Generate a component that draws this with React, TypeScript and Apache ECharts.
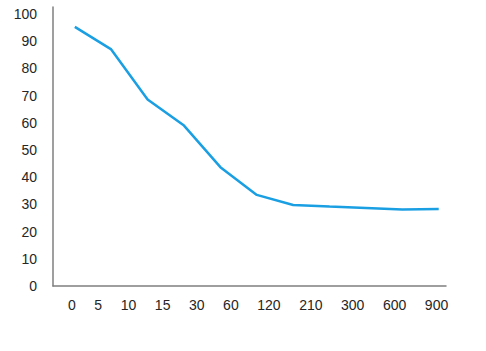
import React, { useEffect, useRef } from "react";
import * as echarts from "echarts";

const categories = ["0", "5", "10", "15", "30", "60", "120", "210", "300", "600", "900"];
const values = [95.3, 87, 68.6, 59, 43.7, 33.5, 29.8, 29.2, 28.7, 28.1, 28.3];
const yTicks = { min: 0, max: 100, interval: 10 };

const W = 486;
const H = 351;
const FONT_FAMILY = '"Liberation Sans", Arial, sans-serif';
const FONT_SIZE = 14;
const TEXT_COLOR = "#262626";
const AXIS_COLOR = "#7f7f7f";
const LINE_COLOR = "#1a9fe3";

export default function App() {
  const ref = useRef<HTMLDivElement>(null);
  useEffect(() => {
    if (!ref.current) return;
    const chart = echarts.init(ref.current, null, { renderer: "svg" });
    const gridLeft = 53;
    const gridRight = 40;
    const xMin = -0.6;
    const xMax = categories.length - 1 + 0.2;
    const pxPerUnit = (W - gridLeft - gridRight) / (xMax - xMin);

    // lay labels out with equal gaps between them (as in the reference)
    const canvas = document.createElement("canvas");
    const ctx = canvas.getContext("2d")!;
    ctx.font = `${FONT_SIZE}px ${FONT_FAMILY}`;
    const widths = categories.map((c) => ctx.measureText(c).width / pxPerUnit);
    const firstC = -0.08;
    const lastC = categories.length - 1 - 0.06;
    const inner = widths.reduce((a, b) => a + b, 0) - widths[0] / 2 - widths[widths.length - 1] / 2;
    const gap = (lastC - firstC - inner) / (categories.length - 1);
    const centers: number[] = [firstC];
    for (let i = 1; i < categories.length; i++) {
      centers.push(centers[i - 1] + widths[i - 1] / 2 + gap + widths[i] / 2);
    }

    // axis line extends slightly above the top tick, as in the reference
    const yHeadroom = 2.6;

    chart.setOption({
      animation: false,
      backgroundColor: "#ffffff",
      grid: { left: gridLeft, right: gridRight, top: 7, bottom: 65, containLabel: false },
      xAxis: {
        type: "value",
        min: xMin,
        max: xMax,
        splitLine: { show: false },
        axisTick: { show: false },
        axisLine: { show: true, onZero: false, lineStyle: { color: AXIS_COLOR, width: 1.5 } },
        axisLabel: {
          customValues: centers,
          margin: 12,
          color: TEXT_COLOR,
          fontSize: FONT_SIZE,
          fontFamily: FONT_FAMILY,
          formatter: (v: number) => {
            const idx = centers.findIndex((c) => Math.abs(c - v) < 1e-6);
            return idx >= 0 ? categories[idx] : "";
          },
        },
      },
      yAxis: {
        type: "value",
        min: yTicks.min,
        max: yTicks.max + yHeadroom,
        interval: yTicks.interval,
        splitLine: { show: false },
        axisTick: { show: false },
        axisLine: { show: true, onZero: false, lineStyle: { color: AXIS_COLOR, width: 1.5 } },
        axisLabel: {
          margin: 16,
          color: TEXT_COLOR,
          fontSize: FONT_SIZE,
          fontFamily: FONT_FAMILY,
          showMaxLabel: false,
          formatter: (v: number) =>
            v <= yTicks.max && Math.abs(v % yTicks.interval) < 1e-6 ? String(v) : "",
        },
      },
      series: [
        {
          type: "line",
          data: values.map((v, i) => [i, v]),
          showSymbol: false,
          lineStyle: { color: LINE_COLOR, width: 2.5 },
          itemStyle: { color: LINE_COLOR },
        },
      ],
    });
    return () => chart.dispose();
  }, []);
  return (
    <div
      ref={ref}
      style={{ position: "absolute", left: 0, top: 0, width: W, height: H, background: "#fff" }}
    />
  );
}
